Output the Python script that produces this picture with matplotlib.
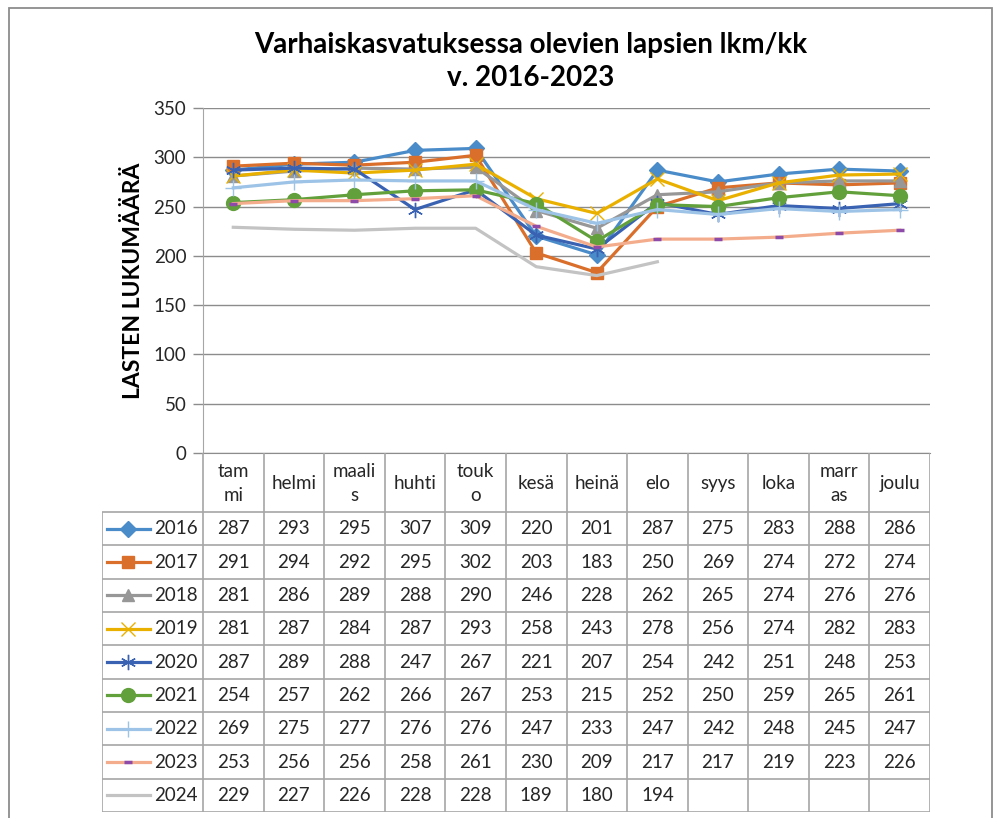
import numpy as np
import matplotlib
matplotlib.use("Agg")
import matplotlib.pyplot as plt
from matplotlib.patches import Rectangle
from matplotlib.lines import Line2D

W, H = 997, 818

months = ["tam\nmi", "helmi", "maali\ns", "huhti", "touk\no", "kesä", "heinä",
          "elo", "syys", "loka", "marr\nas", "joulu"]
years = ["2016", "2017", "2018", "2019", "2020", "2021", "2022", "2023", "2024"]
v2016 = [287, 293, 295, 307, 309, 220, 201, 287, 275, 283, 288, 286]
v2017 = [291, 294, 292, 295, 302, 203, 183, 250, 269, 274, 272, 274]
v2018 = [281, 286, 289, 288, 290, 246, 228, 262, 265, 274, 276, 276]
v2019 = [281, 287, 284, 287, 293, 258, 243, 278, 256, 274, 282, 283]
v2020 = [287, 289, 288, 247, 267, 221, 207, 254, 242, 251, 248, 253]
v2021 = [254, 257, 262, 266, 267, 253, 215, 252, 250, 259, 265, 261]
v2022 = [269, 275, 277, 276, 276, 247, 233, 247, 242, 248, 245, 247]
v2023 = [253, 256, 256, 258, 261, 230, 209, 217, 217, 219, 223, 226]
v2024 = [229, 227, 226, 228, 228, 189, 180, 194, None, None, None, None]
series = [v2016, v2017, v2018, v2019, v2020, v2021, v2022, v2023, v2024]

colors = ["#4A8BC9", "#D96F2B", "#979797", "#E9B000", "#3A62B2", "#62A03C",
          "#9DC3E6", "#F4AD8C", "#C3C3C3"]
markers = ["D", "s", "^", "x", (6, 2, 0), "o", "+", "_", None]
msizes = [8, 9, 9, 10, 11, 10, 11, 6, 0]
mfc = colors[:]
mec = colors[:]
mec[7] = "#8E4AA8"
mfc[7] = "#8E4AA8"
mew = [1, 1, 1, 1, 1, 1, 1, 2.5, 1]

tickfont = ["Lato", "DejaVu Sans"]
titlefont = ["Lato", "DejaVu Sans"]

fig = plt.figure(figsize=(W / 100, H / 100), dpi=100)

def fx(x):
    return x / W

def fy(y):
    return 1 - y / H

# outer border
fig.patches.append(Rectangle((fx(9), fy(830)), fx(992) - fx(9), fy(8) - fy(830),
                             transform=fig.transFigure, fill=False,
                             edgecolor="#8C8C8C", lw=1.3))

grid_c = "#8C8C8C"
tab_c = "#A6A6A6"
txt_c = "#262626"
fs = 13.5

# plot area
ax = fig.add_axes([fx(203), fy(453), fx(930) - fx(203), fy(108) - fy(453)])
x = np.arange(12)
for vals, c, m, ms, fc, ec, ew in zip(series, colors, markers, msizes, mfc, mec, mew):
    y = np.array([np.nan if v is None else v for v in vals], dtype=float)
    ax.plot(x, y, color=c, lw=2.3, marker=m, markersize=ms, markerfacecolor=fc,
            markeredgecolor=ec, markeredgewidth=ew, solid_joinstyle="round")
ax.set_xlim(-0.5, 11.5)
ax.set_ylim(0, 350)
ax.set_yticks(np.arange(0, 351, 50))
ax.set_xticks([])
ax.grid(axis="y", color=grid_c, lw=1)
ax.set_axisbelow(True)
for s in ["top", "right"]:
    ax.spines[s].set_visible(False)
ax.spines["left"].set_color(tab_c)
ax.spines["bottom"].set_color(grid_c)
ax.tick_params(axis="y", direction="out", length=7, color=grid_c, width=1,
               labelsize=fs, pad=5, labelcolor=txt_c)
for lab in ax.get_yticklabels():
    lab.set_family(tickfont)
ax.set_ylabel("LASTEN LUKUMÄÄRÄ", fontsize=16.5, fontweight="bold",
              family=titlefont, labelpad=7)

# title
fig.text(fx(531), fy(45), "Varhaiskasvatuksessa olevien lapsien lkm/kk",
         ha="center", va="center", fontsize=20, fontweight="bold", family=titlefont)
fig.text(fx(531), fy(78), "v. 2016-2023", ha="center", va="center",
         fontsize=20, fontweight="bold", family=titlefont)

# data table
colw = (930 - 203) / 12.0
left_px, top_px, bot_px = 102, 453, 812
tax = fig.add_axes([fx(left_px), fy(bot_px), fx(930) - fx(left_px), fy(top_px) - fy(bot_px)])
tax.set_xlim((left_px - 203) / colw, 12)
tax.set_ylim(bot_px - top_px, 0)
tax.axis("off")
hdr = 59
rowh = (bot_px - top_px - hdr) / len(years)
lkw = dict(color=tab_c, lw=1.2, solid_capstyle="butt")
x0 = (left_px - 203) / colw
for j in range(13):
    tax.plot([j, j], [0, hdr], **lkw)
for k in range(len(years) + 1):
    yy = hdr + k * rowh
    tax.plot([x0, 12], [yy, yy], **lkw)
for j in [x0] + list(range(13)):
    tax.plot([j, j], [hdr, bot_px - top_px], **lkw)
for j, m in enumerate(months):
    tax.text(j + 0.5, hdr / 2 + 1, m, ha="center", va="center", fontsize=fs,
             family=tickfont, color=txt_c, linespacing=1.45)
for k, (yr, vals) in enumerate(zip(years, series)):
    yc = hdr + (k + 0.5) * rowh
    lx = [(107 - 203) / colw, (150 - 203) / colw]
    tax.add_line(Line2D(lx, [yc, yc], color=colors[k], lw=2.3))
    if markers[k] is not None:
        tax.add_line(Line2D([(128 - 203) / colw], [yc], color=colors[k], lw=0,
                            marker=markers[k], markersize=msizes[k],
                            markerfacecolor=mfc[k], markeredgecolor=mec[k],
                            markeredgewidth=mew[k]))
    tax.text((154 - 203) / colw, yc, yr, ha="left", va="center", fontsize=fs,
             family=tickfont, color=txt_c)
    for j, v in enumerate(vals):
        if v is not None:
            tax.text(j + 0.5, yc, str(v), ha="center", va="center", fontsize=fs,
                     family=tickfont, color=txt_c)

fig.savefig("out.png", dpi=100)
